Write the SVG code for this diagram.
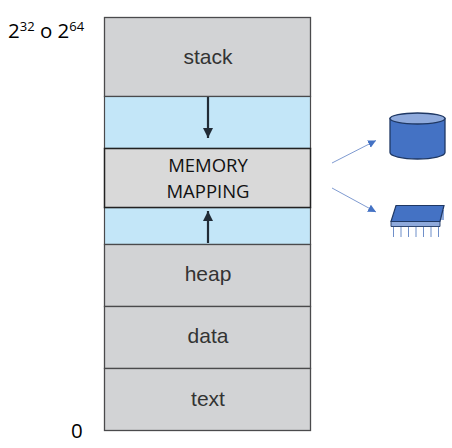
<svg xmlns="http://www.w3.org/2000/svg" width="452" height="448" viewBox="0 0 452 448">
<defs>
<marker id="ah" markerUnits="userSpaceOnUse" markerWidth="11" markerHeight="12" refX="10" refY="5" orient="auto"><path d="M0 0L10 5L0 10Z" fill="#212b36"/></marker>
<marker id="bh" markerUnits="userSpaceOnUse" markerWidth="9" markerHeight="9" refX="8" refY="4" orient="auto"><path d="M0 0L8 4L0 8Z" fill="#4472c4"/></marker>
</defs>
<style>
.g{fill:#d2d3d5;stroke:#4a4a4c;stroke-width:1.300}
.b{fill:#c3e6f8;stroke:#4a4a4c;stroke-width:1.200}
.h{font:21px "Liberation Sans",Arial,sans-serif;fill:#333;text-anchor:middle}
.c{font:20.500px "Open Sans","Noto Sans",sans-serif;fill:#000}
.m{font:18.500px "Open Sans","Noto Sans",sans-serif;fill:#111;text-anchor:middle}
</style>
<rect width="452" height="448" fill="#fff"/>
<g id="stack"><rect class="g" x="104.500" y="17.500" width="206" height="79"/><text class="h" x="208" y="64">stack</text></g>
<g id="gap-top"><rect class="b" x="104.500" y="96.500" width="206" height="52"/></g>
<g id="gap-bottom"><rect class="b" x="104.500" y="207.500" width="206" height="37"/></g>
<g id="memory-mapping"><rect x="104.500" y="148.500" width="206" height="59" fill="#d9d9d9" stroke="#222" stroke-width="1.500"/><text class="m" x="208" y="172">MEMORY</text><text class="m" x="208" y="198">MAPPING</text></g>
<g id="heap"><rect class="g" x="104.500" y="244.500" width="206" height="62"/><text class="h" x="208" y="281">heap</text></g>
<g id="data"><rect class="g" x="104.500" y="306.500" width="206" height="62"/><text class="h" x="208" y="343">data</text></g>
<g id="text"><rect class="g" x="104.500" y="368.500" width="206" height="62"/><text class="h" x="208" y="406">text</text></g>
<g id="label-top"><text class="c" x="8" y="38">2<tspan font-size="13" dy="-7">32</tspan><tspan dy="7"> o 2</tspan><tspan font-size="13" dy="-7">64</tspan></text></g>
<g id="label-zero"><text class="c" x="71" y="438">0</text></g>
<g id="disk">
<path d="M390 118.500V152.500C390 156 402 159 417.500 159S445 156 445 152.500V118.500Z" fill="#4472c4" stroke="#1f3864" stroke-width="1.300"/>
<ellipse cx="417.500" cy="118.500" rx="27.500" ry="5.500" fill="#8faadc" stroke="#1f3864" stroke-width="1.300"/>
</g>
<g id="chip">
<path d="M441.500 210L444 210V220L441 220Z" fill="#8faadc"/>
<path d="M391 221.500L391 226.500H440V221.500Z" fill="#8faadc" stroke="#1f3864" stroke-width=".9"/>
<path d="M391 221.500L396 205.500H444L440 221.500Z" fill="#4472c4" stroke="#1f3864" stroke-width="1.200"/>
<path d="M393.500 227V237M401 227V237M408.500 227V237M416 227V237M423.500 227V237M431 227V237M438.500 227V237" stroke="#6f8fc9" stroke-width="1" fill="none"/>
</g>
<g id="connectors" fill="none">
<line x1="208" y1="97" x2="208" y2="138" stroke="#212b36" stroke-width="2.200" marker-end="url(#ah)"/>
<line x1="208" y1="243" x2="208" y2="211" stroke="#212b36" stroke-width="2.200" marker-end="url(#ah)"/>
<line x1="332" y1="163" x2="376" y2="140.500" stroke="#7f9bd1" stroke-width="1" marker-end="url(#bh)"/>
<line x1="332" y1="188" x2="376" y2="212" stroke="#7f9bd1" stroke-width="1" marker-end="url(#bh)"/>
</g>
</svg>
